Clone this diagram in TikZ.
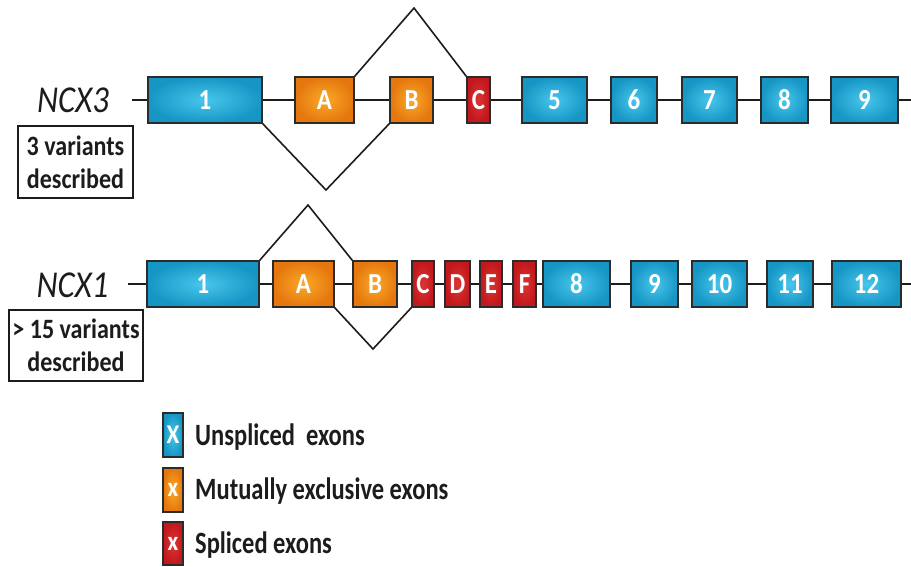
\documentclass[tikz,border=0pt]{standalone}
\usepackage{fontspec}
\newfontfamily\exfont{Carlito}[FakeStretch=0.86]
\newfontfamily\keyfont{Carlito}[FakeStretch=0.79]
\usetikzlibrary{backgrounds}
\definecolor{uIn}{HTML}{48C6EC}
\definecolor{uOut}{HTML}{1696C4}
\definecolor{mIn}{HTML}{FAAA28}
\definecolor{mOut}{HTML}{E5770E}
\definecolor{sIn}{HTML}{DC3434}
\definecolor{sOut}{HTML}{C2181C}
\definecolor{edge}{HTML}{2B2B2B}
\definecolor{ink}{HTML}{1C1C1C}
\tikzset{
  exon/.style={draw=edge, line width=1.4pt, minimum height=46, inner sep=0pt,
    text=white, font=\exfont\bfseries\fontsize{29}{30}\selectfont},
  unspliced/.style={exon, inner color=uIn, outer color=uOut},
  mutex/.style={exon, inner color=mIn, outer color=mOut},
  spliced/.style={exon, inner color=sIn, outer color=sOut},
  gene/.style={draw=ink, line width=1.6pt},
  junction/.style={draw=ink, line width=1.6pt, line join=miter},
  genename/.style={text=ink, font=\exfont\itshape\fontsize{38}{40}\selectfont},
  notebox/.style={draw=ink, line width=1.1pt, inner sep=0pt, align=center,
    text=ink, font=\exfont\bfseries\fontsize{28}{33}\selectfont},
  keybox/.style={draw=edge, line width=1.4pt, minimum width=20, inner sep=0pt,
    text=white, font=\exfont\bfseries\fontsize{27}{28}\selectfont},
  keytext/.style={anchor=west, inner sep=0pt, text=ink,
    font=\keyfont\bfseries\fontsize{31}{33}\selectfont}
}
\begin{document}
\begin{tikzpicture}[x=1pt, y=-1pt]
\useasboundingbox (0,0) rectangle (911,567);

% ---------- NCX3 ----------
\node[genename] (ncx3) at (73,100) {NCX3};
\node[notebox, minimum width=115, minimum height=72] (var3) at (75.5,162) {3 variants\\described};
\coordinate (s3) at (132,100);
\coordinate (t3) at (911,100);
\node[unspliced, minimum width=114] (a1) at (205,100) {1};
\node[mutex, minimum width=59] (aA) at (324.5,100) {A};
\node[mutex, minimum width=43] (aB) at (411.5,100) {B};
\node[spliced, minimum width=23] (aC) at (478.5,100) {C};
\node[unspliced, minimum width=65] (a5) at (554.5,100) {5};
\node[unspliced, minimum width=46] (a6) at (634,100) {6};
\node[unspliced, minimum width=55] (a7) at (709.5,100) {7};
\node[unspliced, minimum width=47] (a8) at (784.5,100) {8};
\node[unspliced, minimum width=67] (a9) at (864.5,100) {9};
\begin{scope}[on background layer]
\draw[gene] (s3) -- (a1) -- (aA) -- (aB) -- (aC) -- (a5) -- (a6) -- (a7) -- (a8) -- (a9) -- (t3);
\end{scope}
\coordinate (p3up) at (414,8);
\coordinate (p3dn) at (326,190);
\draw[junction] (aA.north east) -- (p3up) -- (aC.north west);
\draw[junction] (a1.south east) -- (p3dn) -- (aB.south west);

% ---------- NCX1 ----------
\node[genename] (ncx1) at (72.5,285) {NCX1};
\node[notebox, minimum width=134, minimum height=71] (var1) at (76,345.5) {> 15 variants\\described};
\coordinate (s1) at (128,284);
\coordinate (t1) at (911,284);
\node[unspliced, minimum width=112] (b1) at (203,284) {1};
\node[mutex, minimum width=61] (bA) at (303.5,284) {A};
\node[mutex, minimum width=44] (bB) at (375,284) {B};
\node[spliced, minimum width=22] (bC) at (423,284) {C};
\node[spliced, minimum width=25] (bD) at (457.5,284) {D};
\node[spliced, minimum width=22] (bE) at (491,284) {E};
\node[spliced, minimum width=23] (bF) at (524.5,284) {F};
\node[unspliced, minimum width=67] (b8) at (576.5,284) {8};
\node[unspliced, minimum width=47] (b9) at (654.5,284) {9};
\node[unspliced, minimum width=55] (b10) at (719.5,284) {10};
\node[unspliced, minimum width=46] (b11) at (790,284) {11};
\node[unspliced, minimum width=69] (b12) at (866.5,284) {12};
\begin{scope}[on background layer]
\draw[gene] (s1) -- (b1) -- (bA) -- (bB) -- (bC) -- (bD) -- (bE) -- (bF) -- (b8) -- (b9) -- (b10) -- (b11) -- (b12) -- (t1);
\end{scope}
\coordinate (p1up) at (308,205);
\coordinate (p1dn) at (373,349);
\draw[junction] (b1.north east) -- (p1up) -- (bB.north west);
\draw[junction] (bA.south east) -- (p1dn) -- (bC.south west);

% ---------- key ----------
\node[keybox, minimum height=44, inner color=uIn, outer color=uOut] (k1) at (173,435) {X};
\node[keybox, minimum height=44, inner color=mIn, outer color=mOut] (k2) at (173,490) {x};
\node[keybox, minimum height=43, inner color=sIn, outer color=sOut] (k3) at (173,543.5) {x};
\node[keytext] (l1) at (195,437) {Unspliced\ \ exons};
\node[keytext] (l2) at (195,491) {Mutually exclusive exons};
\node[keytext] (l3) at (195,545) {Spliced exons};
\end{tikzpicture}
\end{document}
